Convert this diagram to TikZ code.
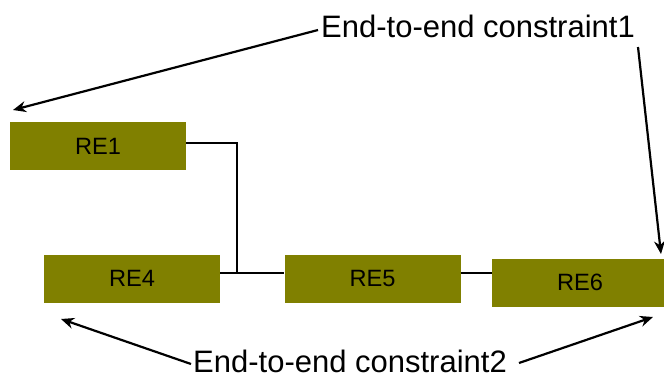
\documentclass[tikz,border=0pt]{standalone}
\usepackage{fontspec}
\setmainfont{Liberation Sans}
\usetikzlibrary{arrows.meta}
\begin{document}
\begin{tikzpicture}[x=1pt,y=-1pt,
  rebox/.style={fill={rgb,255:red,128;green,128;blue,0}, minimum width=176pt, minimum height=48pt, inner sep=0pt, font=\fontsize{23.6}{26}\selectfont},
  bigtext/.style={inner sep=0pt, font=\fontsize{31}{36}\selectfont},
  wire/.style={line width=1.3pt, black},
  constr/.style={line width=2.2pt, black, -{Stealth[length=13pt,width=11pt]}}]
\useasboundingbox (0,0) rectangle (664,380);
\clip (0,0) rectangle (664,380);
\node[rebox] (re1) at (98,146) {RE1};
\node[rebox] (re4) at (132,278.5) {RE4};
\node[rebox] (re5) at (372.5,278.5) {RE5};
\node[rebox] (re6) at (580,282.5) {RE6};
\node[bigtext, anchor=base west] (t1) at (321,37) {End-to-end constraint1};
\node[bigtext, anchor=base west] (t2) at (193,372) {End-to-end constraint2};
\coordinate (j) at (237,273);
\coordinate (a1s) at (318,30);
\coordinate (a1e) at (13,110);
\coordinate (a2s) at (638,47);
\coordinate (a2e) at (661,254);
\coordinate (a3s) at (191,364);
\coordinate (a3e) at (61,319);
\coordinate (a4s) at (519,363);
\coordinate (a4e) at (653,317);
\draw[wire] (re1.east |- 0,143) -| (j);
\draw[wire] (re4.east |- j) -- (re5.west |- j);
\draw[wire] (re5.east |- j) -- (re6.west |- j);
\draw[constr] (a1s) -- (a1e);
\draw[constr] (a2s) -- (a2e);
\draw[constr] (a3s) -- (a3e);
\draw[constr] (a4s) -- (a4e);
\end{tikzpicture}
\end{document}
